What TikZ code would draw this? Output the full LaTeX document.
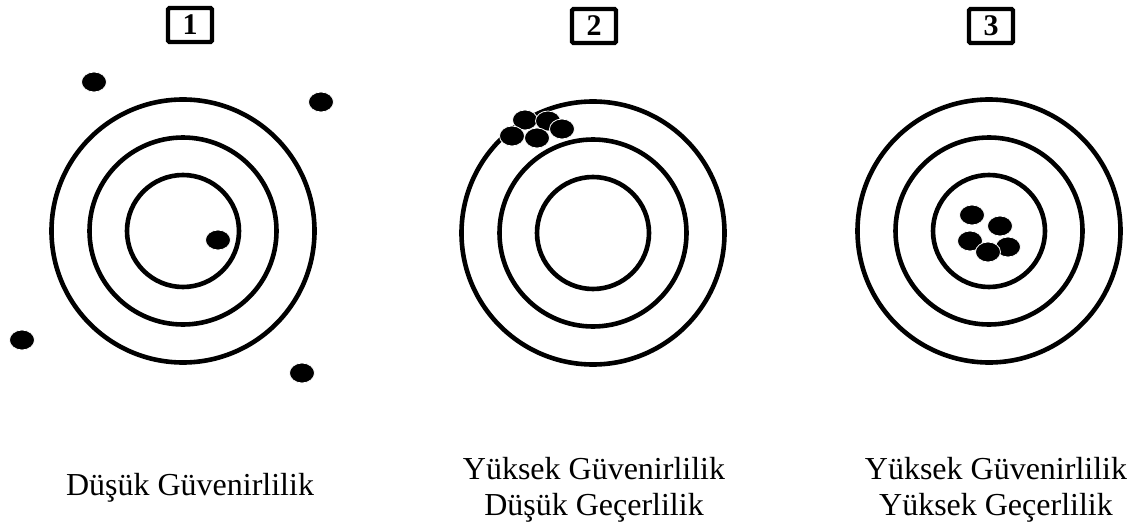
\documentclass[tikz,border=0pt]{standalone}
\usepackage{fontspec}
\setmainfont{Liberation Serif}
\usetikzlibrary{shapes.geometric}
\tikzset{
  ring/.style={draw=black, line width=4.6pt},
  shot/.style={ellipse, fill=black, draw=white, line width=0.8pt, minimum width=25pt, minimum height=20pt, inner sep=0pt},
  numbox/.style={draw=black, line width=4.4pt, rounded corners=1.5pt, minimum width=44pt, minimum height=34pt, inner sep=0pt, font=\fontsize{30}{32}\selectfont\bfseries},
  caption/.style={align=center, inner sep=0pt, font=\fontsize{32}{36}\selectfont}
}
\begin{document}
\begin{tikzpicture}[x=1pt, y=-1pt]
\useasboundingbox (0,0) rectangle (1131,524);
% target centres
\coordinate (t1) at (183,231);
\coordinate (t2) at (593,233);
\coordinate (t3) at (989,231);
\foreach \t in {t1,t2,t3}{
  \draw[ring] (\t) circle[radius=131.5pt];
  \draw[ring] (\t) circle[radius=93.5pt];
  \draw[ring] (\t) circle[radius=56pt];
}
% shots, target 1
\node[shot] (a1) at (94,82) {};
\node[shot] (a2) at (321,102) {};
\node[shot] (a3) at (218,240) {};
\node[shot] (a4) at (22,340) {};
\node[shot] (a5) at (302,373) {};
% shots, target 2
\node[shot] (b1) at (525,120) {};
\node[shot] (b2) at (548,121) {};
\node[shot] (b3) at (562,129) {};
\node[shot] (b4) at (512,136) {};
\node[shot] (b5) at (537,138) {};
% shots, target 3
\node[shot] (c1) at (972,215) {};
\node[shot] (c2) at (1000,226) {};
\node[shot] (c3) at (970,241) {};
\node[shot] (c5) at (1008,247) {};
\node[shot] (c4) at (988,252) {};
% number boxes
\node[numbox] (n1) at (190,25) {1};
\node[numbox] (n2) at (594,26) {2};
\node[numbox] (n3) at (991,26) {3};
% captions
\node[caption, anchor=base] (l1) at (190,495) {Düşük Güvenirlilik};
\node[caption, anchor=base] (l2) at (594,515) {Yüksek Güvenirlilik\\Düşük Geçerlilik};
\node[caption, anchor=base] (l3) at (996,515) {Yüksek Güvenirlilik\\Yüksek Geçerlilik};
\end{tikzpicture}
\end{document}
